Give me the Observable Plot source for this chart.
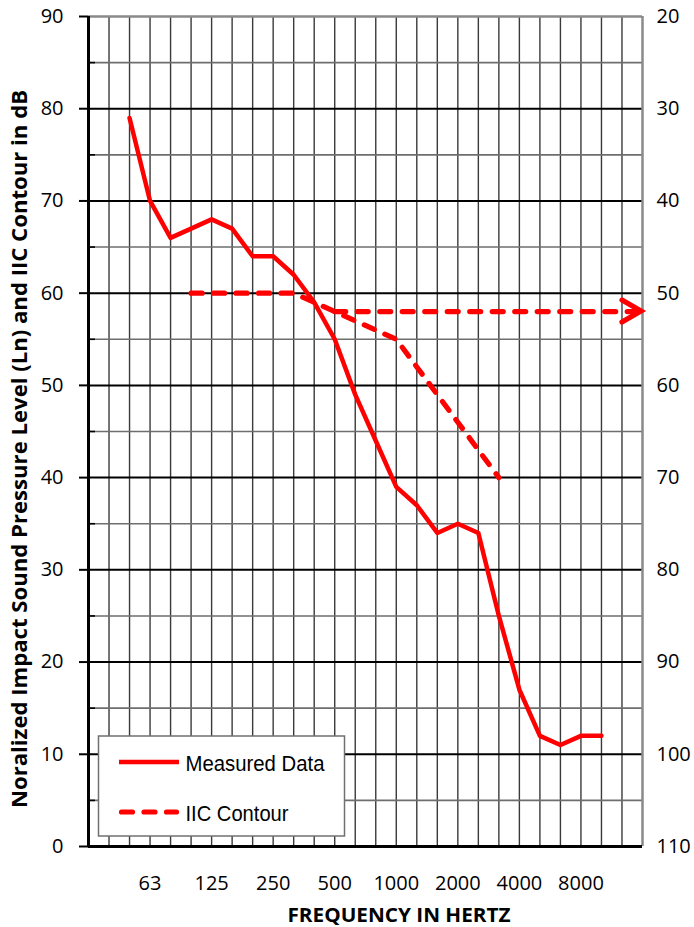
<!DOCTYPE html>
<html><head><meta charset="utf-8">
<script src="https://cdn.jsdelivr.net/npm/d3@7"></script>
<script src="https://cdn.jsdelivr.net/npm/@observablehq/plot@0.6"></script>
<style>body{margin:0;background:#fff} #chart{width:694px;height:927px}</style>
</head><body><div id="chart"></div>
<script>
// One-third octave band categories (gridline positions)
const bands = [31.5,40,50,63,80,100,125,160,200,250,315,400,500,630,800,1000,1250,1600,2000,2500,3150,4000,5000,6300,8000,10000,12500,16000];
const xTickLabels = ["63","125","250","500","1000","2000","4000","8000"];
// Measured normalized impact sound pressure level (Ln)
const measuredFreq = [50,63,80,100,125,160,200,250,315,400,500,630,800,1000,1250,1600,2000,2500,3150,4000,5000,6300,8000,10000];
const measuredLn   = [79,70,66,67,68,67,64,64,62,59,55,49,44,39,37,34,35,34,25,17,12,11,12,12];
// Fitted IIC contour
const iicFreq    = [100,125,160,200,250,315,400,500,630,800,1000,1250,1600,2000,2500,3150];
const iicContour = [60,60,60,60,60,60,59,58,57,56,55,52,49,46,43,40];
// IIC rating read on the right axis, arrow span
const iicRating = 52;
const arrowFreq = [500, 16000];
// Axes
const leftTicks  = [0,10,20,30,40,50,60,70,80,90];
const minorTicks = [5,15,25,35,45,55,65,75,85];
const rightAxisOffset = 110; // right value = 110 - left value
const legendLabels = ["Measured Data","IIC Contour"];
const yTitle = "Noralized Impact Sound Pressure Level (Ln) and IIC Contour in dB";
const xTitle = "FREQUENCY IN HERTZ";

const idx = f => bands.indexOf(f);
const measured = measuredFreq.map((f,i) => ({x: idx(f), y: measuredLn[i]}));
const contour = iicFreq.map((f,i) => ({x: idx(f), y: iicContour[i]}));
const arrowLine = arrowFreq.map(f => ({x: idx(f), y: rightAxisOffset - iicRating}));
const gridX = bands.map((f,i) => i).filter(i => i > 0 && i < bands.length - 1);
const octaveIdx = xTickLabels.map(l => idx(+l));
const RED = "#ff0000";
const DASH = "11,11.5";
const DW = 5.2;

function overlay(index, scales) {
  const X = scales.x, Y = scales.y;
  const g = d3.create("svg:g");
  // arrow head
  const tx = X(idx(arrowFreq[1])), ty = Y(rightAxisOffset - iicRating);
  g.append("path")
    .attr("d", `M${tx-20},${ty-11}L${tx-1},${ty}L${tx-20},${ty+11}`)
    .attr("fill","none").attr("stroke",RED).attr("stroke-width",DW)
    .attr("stroke-linecap","round").attr("stroke-linejoin","miter");
  // legend
  const lx = 98.5, ly = 736;
  const lg = g.append("g").attr("text-anchor","start");
  lg.append("rect").attr("x",lx).attr("y",ly).attr("width",246).attr("height",100)
    .attr("fill","#fff").attr("stroke","#707070").attr("stroke-width",1.5);
  lg.append("line").attr("x1",lx+20.5).attr("x2",lx+80.5).attr("y1",ly+26).attr("y2",ly+26)
    .attr("stroke",RED).attr("stroke-width",4.5);
  lg.append("line").attr("x1",lx+23).attr("x2",lx+78).attr("y1",ly+76).attr("y2",ly+76)
    .attr("stroke",RED).attr("stroke-width",DW).attr("stroke-dasharray",DASH).attr("stroke-linecap","round");
  lg.append("text").attr("x",lx+87).attr("y",ly+34.5).text(legendLabels[0])
    .attr("font-family","Liberation Sans, Arial, sans-serif").attr("font-size",22)
    .attr("textLength",139).attr("lengthAdjust","spacingAndGlyphs").attr("fill","#000");
  lg.append("text").attr("x",lx+87).attr("y",ly+85.3).text(legendLabels[1])
    .attr("font-family","Liberation Sans, Arial, sans-serif").attr("font-size",22)
    .attr("textLength",103).attr("lengthAdjust","spacingAndGlyphs").attr("fill","#000");
  // axis titles
  g.append("text").attr("transform","translate(27,449) rotate(-90)")
    .attr("text-anchor","middle").attr("font-weight","bold").attr("font-size",21)
    .attr("font-family","Open Sans, sans-serif").attr("fill","#000")
    .attr("textLength",718).attr("lengthAdjust","spacingAndGlyphs").text(yTitle);
  g.append("text").attr("x",399).attr("y",921.5)
    .attr("text-anchor","middle").attr("font-weight","bold").attr("font-size",20)
    .attr("font-family","Open Sans, sans-serif").attr("fill","#000")
    .attr("textLength",223).attr("lengthAdjust","spacingAndGlyphs").text(xTitle);
  return g.node();
}

const chart = Plot.plot({
  width: 694, height: 927,
  marginLeft: 88, marginRight: 52, marginTop: 16, marginBottom: 81,
  style: {fontFamily: "Open Sans, sans-serif", fontSize: "20px", color: "#000", background: "#fff"},
  x: {type: "linear", domain: [0, bands.length - 1], label: null},
  y: {domain: [0, 90], label: null},
  marks: [
    Plot.ruleX(gridX, {stroke: "#3a3a3a", strokeWidth: 1.4}),
    Plot.ruleY(minorTicks, {stroke: "#6e6e6e", strokeWidth: 1.6}),
    Plot.ruleY(leftTicks.filter(d => d > 0 && d < 90), {stroke: "#000", strokeWidth: 2}),
    Plot.ruleY([90], {stroke: "#8a8a8a", strokeWidth: 2.5}),
    Plot.ruleX([bands.length - 1], {stroke: "#8a8a8a", strokeWidth: 2.5}),
    Plot.ruleX([0], {stroke: "#000", strokeWidth: 3}),
    Plot.ruleY([0], {stroke: "#000", strokeWidth: 3}),
    Plot.axisY(leftTicks, {anchor: "left", tickSize: 9, tickPadding: 16, strokeWidth: 2, label: null, fontSize: 20}),
    Plot.axisY(minorTicks, {anchor: "left", tickSize: -7, tickFormat: () => "", strokeWidth: 1.6, label: null}),
    Plot.axisY(leftTicks, {anchor: "right", tickSize: 0, tickPadding: 14, textAnchor: "start", tickFormat: d => String(rightAxisOffset - d), label: null, fontSize: 20}),
    Plot.axisX(octaveIdx, {anchor: "bottom", tickSize: 0, tickPadding: 29, tickFormat: d => xTickLabels[octaveIdx.indexOf(d)], label: null, fontSize: 20}),
    Plot.line(contour, {x: "x", y: "y", stroke: RED, strokeWidth: DW, strokeDasharray: DASH, strokeLinecap: "round", strokeLinejoin: "round"}),
    Plot.line(arrowLine, {x: "x", y: "y", stroke: RED, strokeWidth: DW, strokeDasharray: DASH, strokeLinecap: "round"}),
    Plot.line(measured, {x: "x", y: "y", stroke: RED, strokeWidth: 4.5, strokeLinejoin: "round"}),
    overlay
  ]
});
document.getElementById("chart").append(chart);
</script></body></html>
